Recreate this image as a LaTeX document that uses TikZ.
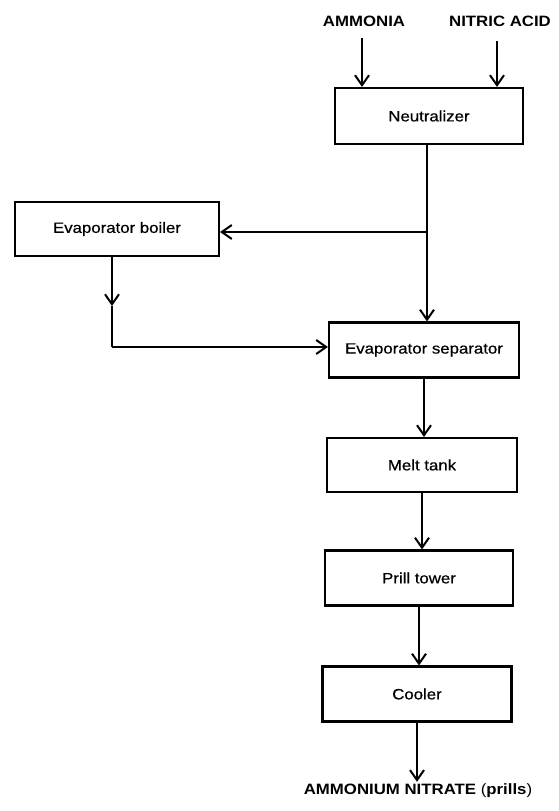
\documentclass[tikz,border=0pt]{standalone}
\usepackage{fontspec}
\setmainfont[FakeStretch=1.12]{Liberation Sans}
\newfontfamily\unitfont[FakeStretch=1.12,FakeBold=0.6]{Liberation Sans}
\usetikzlibrary{arrows.meta}
\begin{document}
\begin{tikzpicture}[x=1pt,y=-1pt,
  flow/.style={line width=2pt},
  arr/.style={flow,-{Straight Barb[length=10pt,width=14pt,line width=2pt]}},
  unit/.style={draw,line width=2.1pt,inner sep=0pt,
    font=\unitfont\fontsize{15}{18}\selectfont},
  stream/.style={inner sep=0pt,font=\fontsize{15}{18}\selectfont\bfseries}]
\useasboundingbox (0,0) rectangle (559,811);

% feed and product streams
\node[stream] (amm) at (364,21) {AMMONIA};
\node[stream] (acid) at (500,21) {NITRIC ACID};
\node[stream] (prod) at (418,791) {AMMONIUM NITRATE {\mdseries(}prills{\mdseries)}};

% process units
\node[unit,minimum width=188pt,minimum height=56pt] (neut) at (429,116) {Neutralizer};
\node[unit,minimum width=204pt,minimum height=54pt] (boil) at (117,229) {Evaporator boiler};
\node[unit,minimum width=190pt,minimum height=55pt] (sep) at (424,350) {Evaporator separator};
\node[unit,minimum width=190pt,minimum height=54pt] (melt) at (422,465) {Melt tank};
\node[unit,minimum width=188pt,minimum height=55pt] (prill) at (419,578) {Prill tower};
\node[unit,minimum width=189pt,minimum height=55pt] (cool) at (417,694) {Cooler};

% branch point and bends
\coordinate (j) at (427,232);
\coordinate (bmid) at (112,306);
\coordinate (bend) at (112,347);

% feeds into the neutralizer
\draw[arr] ([yshift=-11pt]amm.south -| 362,0) -- (362,0 |- neut.north);
\draw[arr] ([yshift=-14pt]acid.south -| 497,0) -- (497,0 |- neut.north);

% neutralizer outlet splits to boiler and separator
\draw[flow] (neut.south -| j) -- (j);
\draw[arr] (j) -- (j |- sep.north);
\draw[arr] (j) -- (boil.east |- j);

% boiler return to the separator
\draw[arr] (boil.south -| bmid) -- (bmid);
\draw[flow] (bmid) -- (bend);
\draw[arr] (bend) -- (sep.west |- bend);

% main product line
\draw[arr] (sep.south) -- (sep.south |- melt.north);
\draw[arr] (melt.south) -- (melt.south |- prill.north);
\draw[arr] (prill.south) -- (prill.south |- cool.north);
\draw[arr] (cool.south) -- ([yshift=2pt]cool.south |- prod.north);
\end{tikzpicture}
\end{document}
